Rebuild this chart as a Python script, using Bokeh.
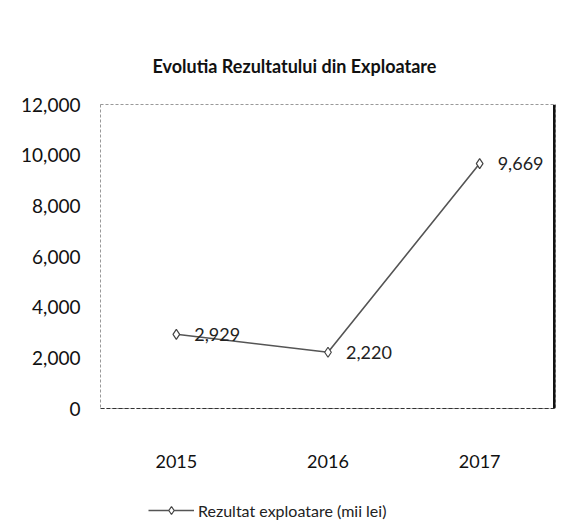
from bokeh.plotting import figure
from bokeh.layouts import column
from bokeh.models import ColumnDataSource, FactorRange, Range1d, Legend, LegendItem, NumeralTickFormatter, FixedTicker
from bokeh.transform import dodge
from bokeh.core.properties import value
from bokeh.embed import file_html
from bokeh.resources import INLINE

years = ["2015", "2016", "2017"]
values = [2929, 2220, 9669]
labels = ["2,929", "2,220", "9,669"]
y_ticks = [0, 2000, 4000, 6000, 8000, 10000, 12000]
series_name = "Rezultat exploatare (mii lei)"

src = ColumnDataSource(dict(x=years, y=values, lab=labels))
edge = ColumnDataSource(dict(x=[years[-1]], y0=[y_ticks[0]], y1=[y_ticks[-1]]))

p = figure(width=563, height=480, x_range=FactorRange(*years, range_padding=0),
           y_range=Range1d(0, 12000), output_backend="svg", toolbar_location=None,
           min_border_left=100, min_border_right=8, min_border_bottom=72, min_border_top=104)

p.title.text = "Evolutia Rezultatului din Exploatare"
p.title.text_font = "Lato"
p.title.text_font_size = "18px"
p.title.text_font_style = "bold"
p.title.text_color = "#111111"
p.title.align = "left"
p.title.offset = 52
p.title.standoff = 56

p.xgrid.grid_line_color = None
p.ygrid.grid_line_color = None
p.outline_line_color = "#999999"
p.outline_line_dash = "3 2"

p.yaxis.ticker = FixedTicker(ticks=y_ticks)
p.yaxis.formatter = NumeralTickFormatter(format="0,0")
p.yaxis.axis_line_color = None
p.yaxis.major_tick_line_color = None
p.yaxis.minor_tick_line_color = None
p.yaxis.major_label_standoff = 14
p.yaxis.major_label_text_font = "Lato"
p.yaxis.major_label_text_font_size = "19px"
p.yaxis.major_label_text_color = "#111111"

p.xaxis.axis_line_color = "#333333"
p.xaxis.axis_line_dash = "4 2"
p.xaxis.major_tick_line_color = None
p.xaxis.minor_tick_line_color = None
p.xaxis.major_label_standoff = 40
p.xaxis.major_label_text_font = "Lato"
p.xaxis.major_label_text_font_size = "18px"
p.xaxis.major_label_text_color = "#111111"

p.segment(x0=dodge("x", 0.5, range=p.x_range), y0="y0",
          x1=dodge("x", 0.5, range=p.x_range), y1="y1", source=edge,
          line_color="#111111", line_width=5)

p.line("x", "y", source=src, line_color="#555555", line_width=1.6)
p.scatter("x", "y", source=src, marker="diamond", size=10, fill_color="white",
          line_color="#444444", line_width=1.2)
p.text("x", "y", text="lab", source=src, x_offset=18, text_baseline="middle",
       text_font=value("Lato"), text_font_size="18px", text_color="#222222")

# legend row
p2 = figure(width=563, height=48, x_range=Range1d(0, 1), y_range=Range1d(0, 1),
            output_backend="svg", toolbar_location=None,
            min_border_left=0, min_border_right=0, min_border_top=0, min_border_bottom=0)
p2.axis.visible = False
p2.grid.grid_line_color = None
p2.outline_line_color = None
offscreen = ColumnDataSource(dict(x=[5, 6], y=[5, 6]))
l2 = p2.line("x", "y", source=offscreen, line_color="#555555", line_width=1.6)
s2 = p2.scatter("x", "y", source=offscreen, marker="diamond", size=10, fill_color="white",
                line_color="#444444", line_width=1.2)
legend = Legend(items=[LegendItem(label=series_name, renderers=[l2, s2])],
                location=(48, 8), orientation="horizontal", border_line_color=None,
                background_fill_alpha=0, label_text_font="Lato", label_text_font_size="16px",
                label_text_color="#222222", glyph_width=46, padding=2, margin=0,
                label_standoff=4)
p2.add_layout(legend)

open("out.html", "w").write(file_html(column(p, p2, spacing=0), INLINE))
